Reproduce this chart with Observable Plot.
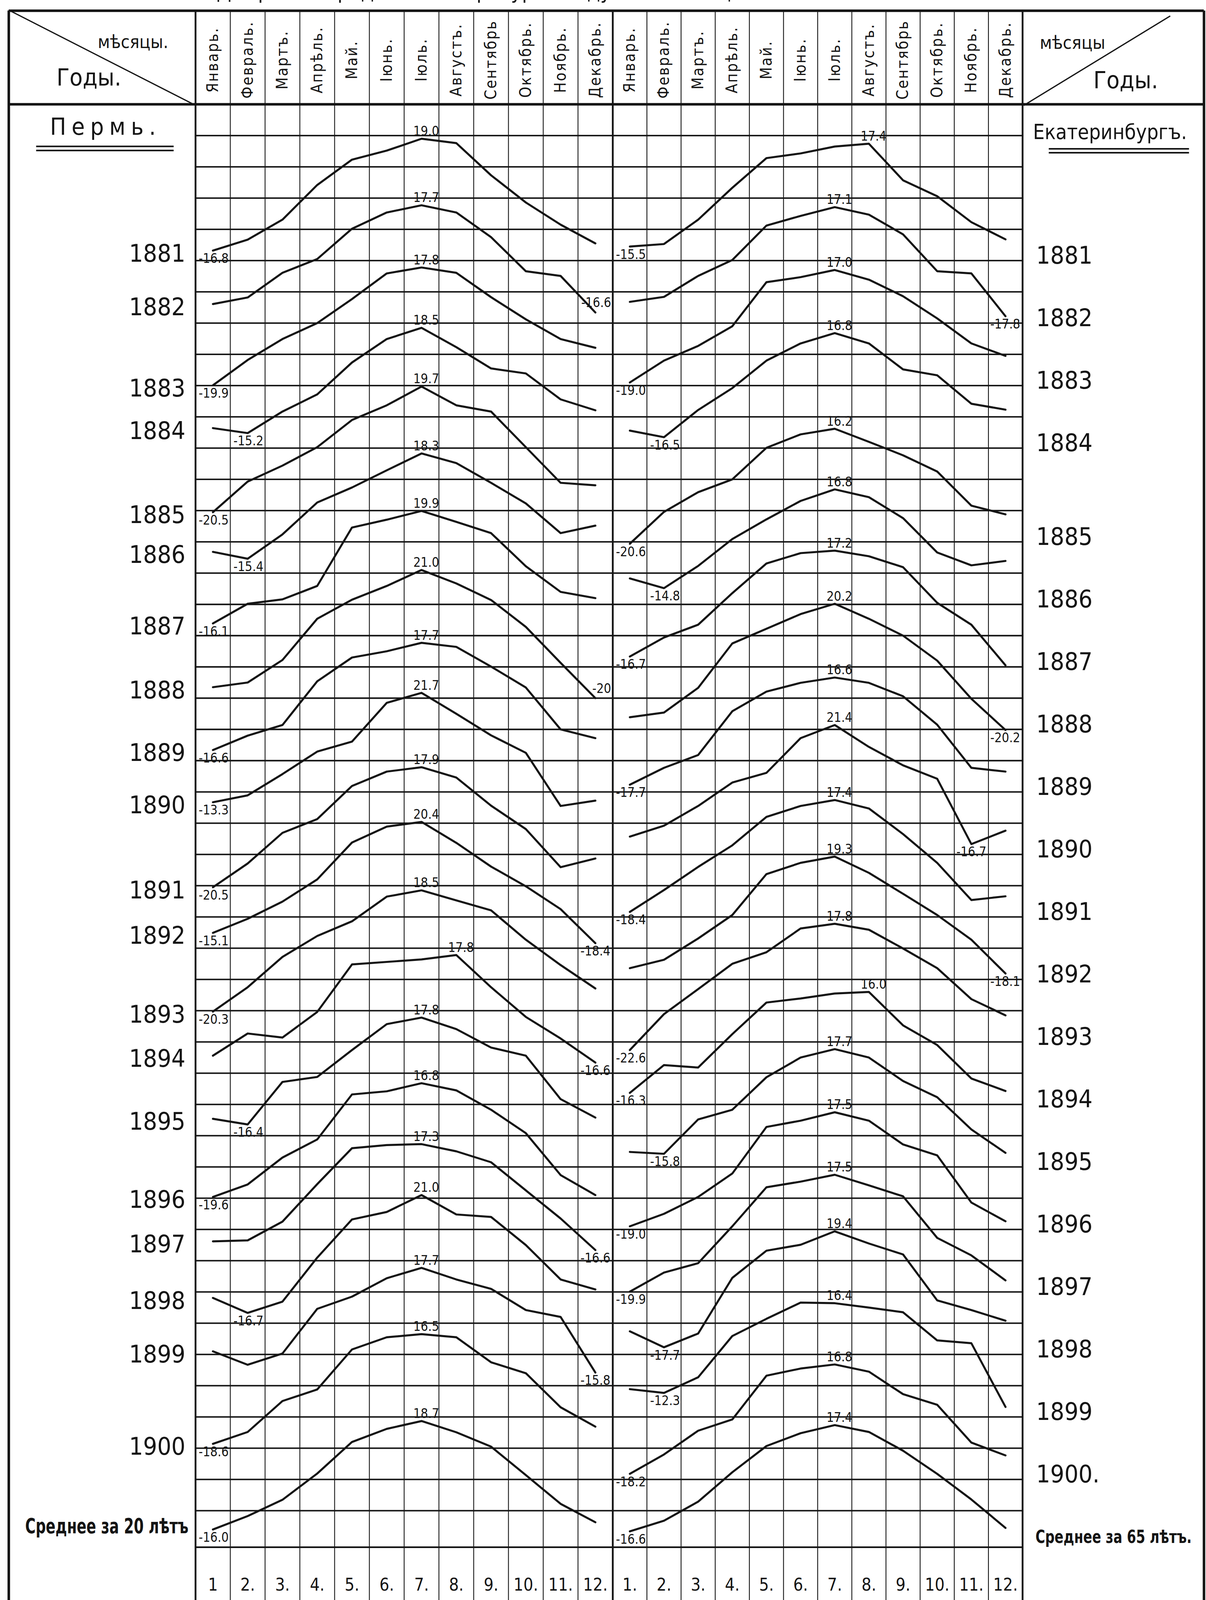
<!DOCTYPE html>
<html>
<head>
<meta charset="utf-8">
<script src="https://cdn.jsdelivr.net/npm/d3@7"></script>
<script src="https://cdn.jsdelivr.net/npm/@observablehq/plot@0.6"></script>
<style>
  html, body { margin: 0; padding: 0; background: #fff; overflow: hidden; }
  #chart svg { display: block; }
</style>
</head>
<body>
<div id="chart"></div>
<script>
// ---------------- DATA ----------------
const monthNames = ["Январь.", "Февраль.", "Мартъ.", "Апрѣль.", "Май.", "Іюнь.", "Іюль.", "Августъ.", "Сентябрь", "Октябрь.", "Ноябрь.", "Декабрь."];
const permMonthNumbers = ["1", "2.", "3.", "4.", "5.", "6.", "7.", "8.", "9.", "10.", "11.", "12."];
const ekMonthNumbers = ["1.", "2.", "3.", "4.", "5.", "6.", "7.", "8.", "9.", "10.", "11.", "12."];
const permRowLabels = ["1881", "1882", "1883", "1884", "1885", "1886", "1887", "1888", "1889", "1890",
  "1891", "1892", "1893", "1894", "1895", "1896", "1897", "1898", "1899", "1900", "Среднее за 20 лѣтъ"];
const ekRowLabels = ["1881", "1882", "1883", "1884", "1885", "1886", "1887", "1888", "1889", "1890",
  "1891", "1892", "1893", "1894", "1895", "1896", "1897", "1898", "1899", "1900.", "Среднее за 65 лѣтъ."];

// Monthly mean temperature (°C), Jan..Dec, Perm
const permTemps = [
  [-16.8, -13.3, -6.9, 4.2, 12.3, 15.2, 19.0, 17.6, 7.3, -1.4, -8.5, -14.5],
  [-13.9, -11.8, -3.9, 0.5, 10.2, 15.4, 17.7, 15.4, 7.5, -3.4, -4.9, -16.6],
  [-19.9, -11.8, -5.1, 0.0, 7.7, 15.9, 17.8, 16.1, 8.3, 1.2, -5.1, -7.9],
  [-13.6, -15.2, -8.3, -2.8, 7.4, 14.9, 18.5, 12.3, 5.5, 3.9, -4.4, -7.9],
  [-20.5, -10.7, -5.6, 0.3, 9.0, 13.7, 19.7, 13.7, 11.7, 0.3, -11.1, -11.9],
  [-13.2, -15.4, -7.6, 2.6, 7.4, 12.9, 18.3, 15.2, 8.9, 2.3, -7.2, -4.8],
  [-16.1, -9.8, -8.4, -4.1, 14.6, 17.1, 19.9, 16.4, 12.8, 2.2, -6.0, -8.0],
  [-16.5, -15.0, -7.8, 5.4, 11.5, 15.9, 21.0, 16.7, 11.4, 2.8, -8.7, -20.0],
  [-16.6, -12.0, -8.6, 5.4, 13.0, 15.0, 17.7, 16.4, 10.1, 3.4, -10.0, -12.8],
  [-13.3, -11.1, -4.3, 2.9, 6.1, 18.5, 21.7, 15.0, 8.1, 2.5, -14.5, -12.8],
  [-20.5, -12.9, -3.1, 1.3, 11.9, 16.5, 17.9, 14.6, 5.6, -1.9, -14.1, -11.3],
  [-15.1, -10.6, -5.1, 2.0, 13.8, 18.9, 20.4, 13.7, 6.1, -0.2, -7.5, -18.4],
  [-20.3, -12.5, -2.8, 3.9, 8.6, 16.5, 18.5, 15.3, 12.1, 2.7, -5.4, -12.9],
  [-14.4, -7.3, -8.6, -0.4, 14.8, 15.6, 16.4, 17.8, 7.5, -2.0, -8.9, -16.6],
  [-14.6, -16.4, -2.8, -1.2, 7.4, 15.7, 17.8, 14.1, 8.2, 5.6, -8.3, -14.2],
  [-19.6, -15.6, -7.0, -1.2, 13.2, 14.2, 16.8, 14.5, 8.3, 0.8, -12.6, -19.0],
  [-13.8, -13.5, -7.5, 4.5, 16.0, 17.0, 17.3, 15.0, 11.5, 2.5, -6.5, -16.6],
  [-11.9, -16.7, -13.1, 1.0, 13.2, 15.6, 21.0, 14.8, 14.0, 5.0, -6.0, -9.2],
  [-9.0, -13.3, -9.7, 4.6, 8.5, 14.4, 17.7, 14.0, 11.0, 4.2, 2.0, -15.8],
  [-18.6, -14.8, -4.9, -1.2, 11.6, 15.5, 16.5, 15.5, 7.5, 4.0, -6.9, -13.1],
  [-16.0, -11.7, -6.5, 1.9, 12.0, 16.2, 18.7, 15.1, 10.5, 1.4, -7.8, -13.7]
];

// Monthly mean temperature (°C), Jan..Dec, Ekaterinburg
const ekTemps = [
  [-15.5, -14.7, -6.9, 3.3, 12.8, 14.3, 16.5, 17.4, 5.7, 0.6, -7.7, -13.2],
  [-13.2, -11.6, -4.9, 0.2, 11.2, 14.3, 17.1, 14.7, 8.4, -3.4, -4.1, -17.8],
  [-19.0, -12.0, -7.3, -1.0, 13.1, 14.7, 17.0, 13.9, 8.6, 1.5, -6.5, -10.5],
  [-14.4, -16.5, -7.8, -0.8, 8.0, 13.5, 16.8, 13.5, 5.2, 3.3, -5.8, -7.7],
  [-20.6, -10.4, -4.1, 0.0, 10.1, 14.4, 16.2, 12.0, 7.7, 2.5, -8.4, -11.2],
  [-11.7, -14.8, -7.7, 0.9, 7.2, 13.1, 16.8, 14.3, 7.6, -3.4, -7.5, -6.1],
  [-16.7, -10.6, -6.5, 3.6, 13.1, 16.4, 17.2, 15.4, 11.9, 0.5, -6.5, -19.5],
  [-16.1, -14.6, -6.7, 7.5, 12.2, 16.9, 20.2, 15.4, 10.0, 2.0, -10.2, -20.2],
  [-17.7, -12.3, -8.2, 5.8, 12.1, 14.9, 16.6, 14.9, 10.6, 1.5, -12.3, -13.5],
  [-14.3, -10.8, -4.5, 3.0, 6.1, 17.2, 21.4, 14.4, 8.5, 4.2, -16.7, -12.4],
  [-18.4, -11.4, -4.0, 2.9, 12.0, 15.5, 17.4, 14.7, 6.5, -2.7, -14.6, -13.4],
  [-16.4, -13.7, -6.9, 0.6, 13.7, 17.3, 19.3, 14.1, 7.4, 0.6, -7.3, -18.1],
  [-22.6, -11.1, -3.1, 5.0, 8.7, 16.3, 17.8, 15.9, 9.9, 3.6, -6.3, -11.5],
  [-16.3, -7.4, -8.2, 2.5, 12.6, 13.9, 15.5, 16.0, 5.3, -1.0, -11.7, -15.7],
  [-15.2, -15.8, -4.8, -1.7, 8.7, 15.0, 17.7, 15.0, 7.5, 2.3, -8.0, -15.5],
  [-19.0, -15.0, -9.6, -2.1, 12.8, 14.8, 17.5, 14.8, 7.2, 3.7, -11.4, -17.4],
  [-19.9, -13.8, -10.8, 1.0, 13.5, 15.3, 17.5, 14.1, 10.6, -2.7, -8.3, -16.3],
  [-12.6, -17.7, -13.3, 4.5, 13.2, 15.1, 19.4, 15.5, 12.0, -2.7, -5.8, -9.2],
  [-11.1, -12.3, -7.3, 5.9, 11.4, 16.6, 16.4, 15.0, 13.5, 4.5, 3.6, -16.8],
  [-18.2, -12.0, -4.4, -0.8, 13.2, 15.5, 16.8, 14.5, 7.3, 3.9, -8.2, -12.3],
  [-16.6, -13.2, -7.1, 2.3, 10.7, 14.8, 17.4, 15.2, 9.2, 1.8, -6.4, -15.5]
];

// Month (1..12) of the labelled maximum of each row
const permMaxMonth = [7, 7, 7, 7, 7, 7, 7, 7, 7, 7, 7, 7, 7, 8, 7, 7, 7, 7, 7, 7, 7];
const ekMaxMonth = [8, 7, 7, 7, 7, 7, 7, 7, 7, 7, 7, 7, 7, 8, 7, 7, 7, 7, 7, 7, 7];

// Labelled minima: [row, month, printed text]
const permMinLabels = [
  [0, 1, "-16.8"], [1, 12, "-16.6"], [2, 1, "-19.9"], [3, 2, "-15.2"], [4, 1, "-20.5"],
  [5, 2, "-15.4"], [6, 1, "-16.1"], [7, 12, "-20"], [8, 1, "-16.6"], [9, 1, "-13.3"],
  [10, 1, "-20.5"], [11, 1, "-15.1"], [11, 12, "-18.4"], [12, 1, "-20.3"], [13, 12, "-16.6"],
  [14, 2, "-16.4"], [15, 1, "-19.6"], [16, 12, "-16.6"], [17, 2, "-16.7"], [18, 12, "-15.8"],
  [19, 1, "-18.6"], [20, 1, "-16.0"]
];
const ekMinLabels = [
  [0, 1, "-15.5"], [1, 12, "-17.8"], [2, 1, "-19.0"], [3, 2, "-16.5"], [4, 1, "-20.6"],
  [5, 2, "-14.8"], [6, 1, "-16.7"], [7, 12, "-20.2"], [8, 1, "-17.7"], [9, 11, "-16.7"],
  [10, 1, "-18.4"], [11, 12, "-18.1"], [12, 1, "-22.6"], [13, 1, "-16.3"], [14, 2, "-15.8"],
  [15, 1, "-19.0"], [16, 1, "-19.9"], [17, 2, "-17.7"], [18, 2, "-12.3"], [19, 1, "-18.2"],
  [20, 1, "-16.6"]
];

const titleText = "Діаграмма средней температуры воздуха по мѣсяцамъ за 1881—1900 г.";

// ---------------- LAYOUT ----------------
// Layout is drawn on the reference's 3087×4563 grid; the drawing is fitted to the visible window height.
const W = 3087, REF_H = 4563;
const H = Math.min(REF_H, window.innerHeight > 200 ? window.innerHeight : REF_H);
const K = H / REF_H;                    // vertical fit
const FK = 0.5 + 0.5 * K;               // font fit
const PX_PER_DEG = 8.913, HEADER_PX = 297;
const vOf = (py) => 30 - (py - HEADER_PX) / PX_PER_DEG;   // reference pixel row -> plot units
const permShift = (i) => (i < 20 ? 20 * i : 410);
const ekShift = (i) => (i < 4 ? 20 * i : i < 20 ? 20 * i + 10 : 410);
const permDecAbove = [1, 7];

const V_TOP = vOf(30), V_BOTTOM = vOf(REF_H), V_HEADER = 30, V_PLOT_BOTTOM = vOf(4412);
const X_LEFT = 0.022, X_RIGHT = 24.994;
const ink = "#141414";
const NARROW = '"Liberation Sans Narrow", "DejaVu Sans Condensed", "Roboto Condensed", sans-serif';
const HAND = '"DejaVu Sans Condensed", "DejaVu Sans", sans-serif';
const fs = (n) => Math.round(n * FK);

// ---------------- TABLES ----------------
const rows = [];
permTemps.forEach((arr, i) => arr.forEach((t, m) => rows.push({key: "p" + i, x: m + 1, v: t - permShift(i)})));
ekTemps.forEach((arr, i) => arr.forEach((t, m) => rows.push({key: "e" + i, x: 12 + m + 1, v: t - ekShift(i)})));

const maxLabels = [
  ...permMaxMonth.map((m, i) => ({x: m, v: permTemps[i][m - 1] - permShift(i), text: permTemps[i][m - 1].toFixed(1)})),
  ...ekMaxMonth.map((m, i) => ({x: 12 + m, v: ekTemps[i][m - 1] - ekShift(i), text: ekTemps[i][m - 1].toFixed(1)}))
];
const minLabels = [
  ...permMinLabels.map(([i, m, text]) => ({panel: "p", row: i, m, x0: 0, v: permTemps[i][m - 1] - permShift(i), text})),
  ...ekMinLabels.map(([i, m, text]) => ({panel: "e", row: i, m, x0: 12, v: ekTemps[i][m - 1] - ekShift(i), text}))
];
const minStart = minLabels.filter(d => d.m <= 2);
const minMid = minLabels.filter(d => d.m === 11);
const minEndBelow = minLabels.filter(d => d.m === 12 && !(d.panel === "p" && permDecAbove.includes(d.row)));
const minEndAbove = minLabels.filter(d => d.m === 12 && d.panel === "p" && permDecAbove.includes(d.row));

const permRows = permRowLabels.map((label, i) => ({label, v: permTemps[i][0] - permShift(i), avg: i === 20}));
const ekRows = ekRowLabels.map((label, i) => ({label, v: -ekShift(i) - 18.4}));

const headerMonths = [...monthNames.map((name, m) => ({x: m + 1, name})), ...monthNames.map((name, m) => ({x: 13 + m, name}))];
const bottomNumbers = [...permMonthNumbers.map((n, m) => ({x: m + 1, n})), ...ekMonthNumbers.map((n, m) => ({x: 13 + m, n}))];

const gridLevels = d3.range(20, -421, -10);
const panelBounds = [0.5, 12.5, 24.5];
const colBounds = d3.range(0.5, 24.51, 1).filter(x => !panelBounds.includes(x));
const diagonals = [
  {x1: 0.025, y1: V_TOP, x2: 0.495, y2: V_HEADER},
  {x1: 24.5032, y1: vOf(300), x2: 24.9021, y2: vOf(45)}
];
const underlines = [
  {x1: 0.092, x2: 0.444, v: vOf(417)}, {x1: 0.092, x2: 0.444, v: vOf(428.6)},
  {x1: 24.5713, x2: 24.9532, v: vOf(424)}, {x1: 24.5713, x2: 24.9532, v: vOf(435)}
];

const plot = Plot.plot({
  width: W, height: H, margin: 0,
  style: {background: "#fff", color: ink},
  x: {type: "linear", domain: [0, 0.5, 12.5, 24.5, 25], range: [0, 500, 1568, 2617, 3087], axis: null},
  y: {type: "linear", domain: [V_BOTTOM, vOf(0)], range: [H, 0], axis: null},
  marks: [
    // title: only its lowest part shows at the top edge, as in the scan
    Plot.text([titleText], {x: () => 11.5, y: () => vOf(-24), text: d => d, lineAnchor: "middle",
      fontSize: fs(56), fontFamily: NARROW, fill: ink}),
    // grid and frame
    Plot.ruleY(gridLevels, {y: d => d, x1: () => 0.5, x2: () => 24.5, stroke: ink, strokeWidth: 3.8}),
    Plot.ruleY([V_PLOT_BOTTOM], {y: d => d, x1: () => 0.5, x2: () => 24.5, stroke: ink, strokeWidth: 4.2}),
    Plot.ruleX(colBounds, {x: d => d, y1: () => V_TOP, y2: () => V_BOTTOM, stroke: ink, strokeWidth: 2.2}),
    Plot.ruleX(panelBounds, {x: d => d, y1: () => V_TOP, y2: () => V_BOTTOM, stroke: ink, strokeWidth: 4.6}),
    Plot.ruleX([X_LEFT, X_RIGHT], {x: d => d, y1: () => V_TOP, y2: () => V_BOTTOM, stroke: ink, strokeWidth: 6.5}),
    Plot.ruleY([V_TOP, V_HEADER], {y: d => d, x1: () => X_LEFT, x2: () => X_RIGHT, stroke: ink, strokeWidth: 6.5}),
    Plot.link(diagonals, {x1: "x1", y1: "y1", x2: "x2", y2: "y2", stroke: ink, strokeWidth: 3.2}),
    Plot.link(underlines, {x1: "x1", x2: "x2", y1: "v", y2: "v", stroke: ink, strokeWidth: 4}),
    // curves
    Plot.line(rows, {x: "x", y: "v", z: "key", stroke: ink, strokeWidth: 5.2, strokeLinejoin: "round", strokeLinecap: "round"}),
    // value labels
    Plot.text(maxLabels, {x: "x", y: "v", text: "text", lineAnchor: "bottom", dy: -9 * K, dx: 12,
      fontSize: fs(35), fontFamily: HAND, fill: ink}),
    Plot.text(minStart, {x: d => d.x0 + d.m - 0.5, y: "v", text: "text", textAnchor: "start", lineAnchor: "top",
      dx: 8, dy: 9 * K, fontSize: fs(35), fontFamily: HAND, fill: ink}),
    Plot.text(minMid, {x: d => d.x0 + d.m, y: "v", text: "text", lineAnchor: "top", dy: 9 * K,
      fontSize: fs(35), fontFamily: HAND, fill: ink}),
    Plot.text(minEndBelow, {x: d => d.x0 + 12.5, y: "v", text: "text", textAnchor: "end", lineAnchor: "top",
      dx: -6, dy: 9 * K, fontSize: fs(35), fontFamily: HAND, fill: ink}),
    Plot.text(minEndAbove, {x: d => d.x0 + 12.5, y: "v", text: "text", textAnchor: "end", lineAnchor: "bottom",
      dx: -4, dy: -15 * K, fontSize: fs(35), fontFamily: HAND, fill: ink}),
    // month headers
    Plot.text(headerMonths, {x: "x", y: () => vOf(170), text: "name", rotate: -90, fontSize: fs(42),
      fontFamily: NARROW, fill: ink}),
    // corner headers
    Plot.text(["мѣсяцы."], {x: () => 0.34, y: () => vOf(120), text: d => d, fontSize: fs(48), fontFamily: NARROW, fill: ink}),
    Plot.text(["Годы."], {x: () => 0.227, y: () => vOf(222), text: d => d, fontSize: fs(64), fontFamily: NARROW, fill: ink}),
    Plot.text(["мѣсяцы"], {x: () => 24.636, y: () => vOf(122), text: d => d, fontSize: fs(48), fontFamily: NARROW, fill: ink}),
    Plot.text(["Годы."], {x: () => 24.781, y: () => vOf(230), text: d => d, fontSize: fs(64), fontFamily: NARROW, fill: ink}),
    // city names
    Plot.text(["Пермь."], {x: () => 0.27, y: () => vOf(362), text: d => d, fontSize: fs(64), fontFamily: NARROW, fill: ink}),
    Plot.text(["Екатеринбургъ."], {x: () => 24.738, y: () => vOf(377), text: d => d, fontSize: fs(56), fontFamily: NARROW, fill: ink}),
    // row labels
    Plot.text(permRows.filter(d => !d.avg), {x: () => 0.474, y: "v", text: "label", textAnchor: "end", dy: 9 * K,
      fontSize: fs(66), fontFamily: NARROW, fill: ink}),
    Plot.text(permRows.filter(d => d.avg), {x: () => 0.482, y: "v", text: "label", textAnchor: "end", dy: -8 * K,
      fontSize: fs(56), fontFamily: NARROW, fontWeight: "bold", fill: ink}),
    Plot.text(ekRows.slice(0, 20), {x: () => 24.537, y: "v", text: "label", textAnchor: "start",
      fontSize: fs(66), fontFamily: NARROW, fill: ink}),
    Plot.text(ekRows.slice(20), {x: () => 24.535, y: "v", text: "label", textAnchor: "start",
      fontSize: fs(50), fontFamily: NARROW, fontWeight: "bold", fill: ink}),
    // bottom month numbers
    Plot.text(bottomNumbers, {x: "x", y: () => vOf(4520), text: "n", fontSize: fs(46), fontFamily: NARROW, fill: ink})
  ]
});

document.getElementById("chart").appendChild(plot);
// typographic fitting of a few long texts to the widths they take in the scan
const fitWidths = new Map([
  ["Среднее за 20 лѣтъ", 418], ["Среднее за 65 лѣтъ.", 400], ["Екатеринбургъ.", 394], [titleText, 1850]
]);
d3.select(plot).selectAll("text").each(function () {
  const t = this.textContent;
  if (monthNames.includes(t)) this.style.letterSpacing = "3px";
  if (t === "Пермь.") this.style.letterSpacing = "14px";
  if (fitWidths.has(t)) {
    this.setAttribute("textLength", fitWidths.get(t));
    this.setAttribute("lengthAdjust", "spacingAndGlyphs");
  }
});
</script>
</body>
</html>
